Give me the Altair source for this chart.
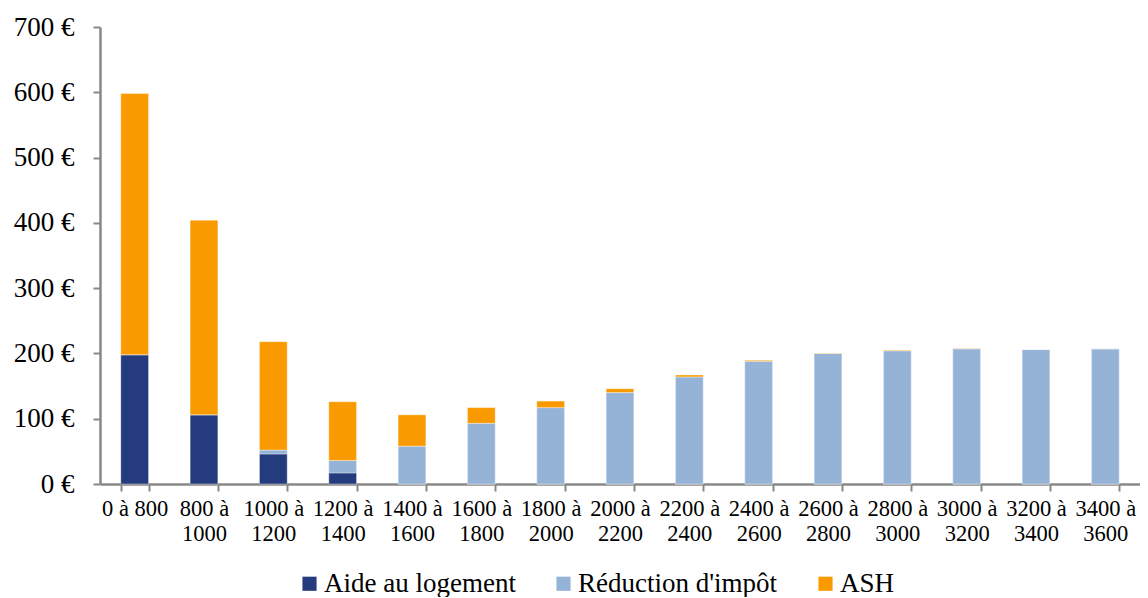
import altair as alt
import pandas as pd

categories = ["0 à 800", "800 à 1000", "1000 à 1200", "1200 à 1400", "1400 à 1600",
              "1600 à 1800", "1800 à 2000", "2000 à 2200", "2200 à 2400", "2400 à 2600",
              "2600 à 2800", "2800 à 3000", "3000 à 3200", "3200 à 3400", "3400 à 3600"]
aide_logement = [198, 106, 46, 17, 0, 0, 0, 0, 0, 0, 0, 0, 0, 0, 0]
reduction_impot = [0, 0, 6, 19, 58, 93, 117, 140, 164, 188, 200, 204, 207, 206, 207]
ash = [400, 298, 166, 90, 48, 24, 10, 6, 3, 1.5, 0.6, 1, 0.6, 0, 0]
series = ["Aide au logement", "Réduction d'impôt", "ASH"]
colors = ["#243C7E", "#95B3D7", "#F99B00"]
y_ticks = [0, 100, 200, 300, 400, 500, 600, 700]

rows = []
for i, c in enumerate(categories):
    for k, (name, vals) in enumerate(zip(series, [aide_logement, reduction_impot, ash])):
        rows.append({"cat": c, "serie": name, "ordre": k, "val": vals[i]})
df = pd.DataFrame(rows)

FONT = "Liberation Serif"
label_expr = ("datum.label == '0 à 800' ? datum.label : "
              "[substring(datum.label, 0, indexof(datum.label, 'à') + 1), "
              "substring(datum.label, indexof(datum.label, 'à') + 2)]")

chart = alt.Chart(df).mark_bar(stroke="white", strokeWidth=0.6, strokeOpacity=0.6).encode(
    x=alt.X("cat:N", sort=categories, title=None,
            scale=alt.Scale(paddingInner=0.6, paddingOuter=0.3),
            axis=alt.Axis(labelAngle=0, labelExpr=label_expr, labelFont=FONT, labelFontSize=22.5,
                          labelColor="#000000", labelLineHeight=25, labelPadding=6,
                          tickBand="extent", tickExtra=True, tickSize=7, tickWidth=2,
                          tickColor="#888888", domainColor="#888888", domainWidth=2.5,
                          labelBaseline="top")),
    y=alt.Y("val:Q", stack="zero", title=None,
            scale=alt.Scale(domain=[0, 700], nice=False),
            axis=alt.Axis(values=y_ticks, labelExpr="datum.value + ' €'", grid=False,
                          labelFont=FONT, labelFontSize=27, labelColor="#000000",
                          labelPadding=19, tickSize=7, tickWidth=2, tickColor="#888888",
                          domainColor="#888888", domainWidth=2.5)),
    color=alt.Color("serie:N", sort=series,
                    scale=alt.Scale(domain=series, range=colors),
                    legend=alt.Legend(title=None, orient="none", direction="horizontal",
                                      columns=3, legendX=196, legendY=543,
                                      labelFont=FONT, labelFontSize=27, labelColor="#000000",
                                      labelLimit=600,
                                      symbolType="square", symbolSize=200, symbolStrokeWidth=0,
                                      labelOffset=1, columnPadding=34, padding=0)),
    order=alt.Order("ordre:Q", sort="ascending"),
).properties(
    width=1040, height=457,
    padding={"left": 5, "top": 5, "right": 0, "bottom": 0},
).configure_view(stroke=None)

chart.save("out.html", embed_options={"renderer": "svg", "actions": False})
